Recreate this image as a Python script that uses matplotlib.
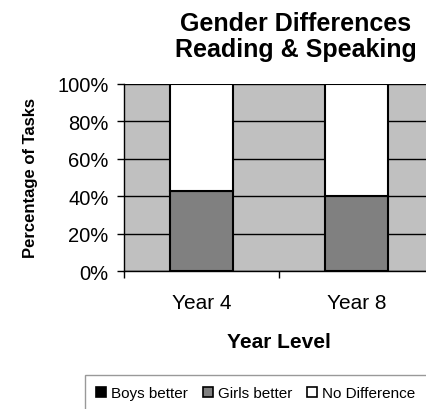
import matplotlib
matplotlib.use("Agg")
import matplotlib.pyplot as plt
from matplotlib.patches import Patch

# Data: share of tasks per year level
years = ["Year 4", "Year 8"]
boys_better = [0, 0]
girls_better = [43, 40]
no_difference = [57, 60]

series_names = ["Boys better", "Girls better", "No Difference"]
series_colors = ["#000000", "#808080", "#ffffff"]

plt.rcParams['font.family'] = ['Liberation Sans', 'DejaVu Sans']

fig = plt.figure(figsize=(4.26, 4.10), dpi=100)
ax = fig.add_axes([124 / 426, 1 - 272 / 410, 310 / 426, 187 / 410])
ax.set_facecolor("#c0c0c0")

x = range(len(years))
width = 0.41
bottom = [0] * len(years)
for vals, col in zip([boys_better, girls_better, no_difference], series_colors):
    ax.bar(x, vals, width, bottom=bottom, color=col, edgecolor="black",
           linewidth=1.5, zorder=3)
    bottom = [b + v for b, v in zip(bottom, vals)]

ax.set_xlim(-0.5, 1.5)
ax.set_ylim(0, 100)
ax.set_yticks(range(0, 101, 20))
ax.set_yticklabels([f"{v}%" for v in range(0, 101, 20)], fontsize=14.5)
ax.yaxis.grid(True, color="black", linewidth=1, zorder=1)
ax.set_axisbelow(True)

ax.set_xticks([-0.5, 0.5, 1.5])
ax.set_xticklabels([])
ax.set_xticks([0, 1], minor=True)
ax.set_xticklabels(years, minor=True, fontsize=15)
ax.tick_params(axis="x", which="minor", length=0, pad=16)
ax.tick_params(axis="x", which="major", length=5, direction="out", width=1)
ax.tick_params(axis="y", length=5, width=1, pad=6)

for side in ["top", "right"]:
    ax.spines[side].set_visible(False)
ax.spines["left"].set_linewidth(1)
ax.spines["bottom"].set_linewidth(1)

ax.set_xlabel("Year Level", fontsize=15, fontweight="bold", labelpad=14)
ax.set_ylabel("Percentage of Tasks", fontsize=12, fontweight="bold", labelpad=14)

fig.text(296 / 426, 1 - 37 / 410, "Gender Differences\nReading & Speaking",
         ha="center", va="center", fontsize=18, fontweight="bold",
         linespacing=1.1)

handles = [Patch(facecolor=c, edgecolor="black", linewidth=1.2) for c in series_colors]
leg = fig.legend(handles, series_names, loc="upper left",
                 bbox_to_anchor=(85 / 426, 1 - 376 / 410), ncol=3,
                 fontsize=11, frameon=True, fancybox=False, edgecolor="#808080",
                 handlelength=0.65, handleheight=0.65, handletextpad=0.3,
                 columnspacing=1.0, borderpad=0.75, borderaxespad=0)
leg.get_frame().set_linewidth(1)

fig.savefig("out.png", dpi=100)
